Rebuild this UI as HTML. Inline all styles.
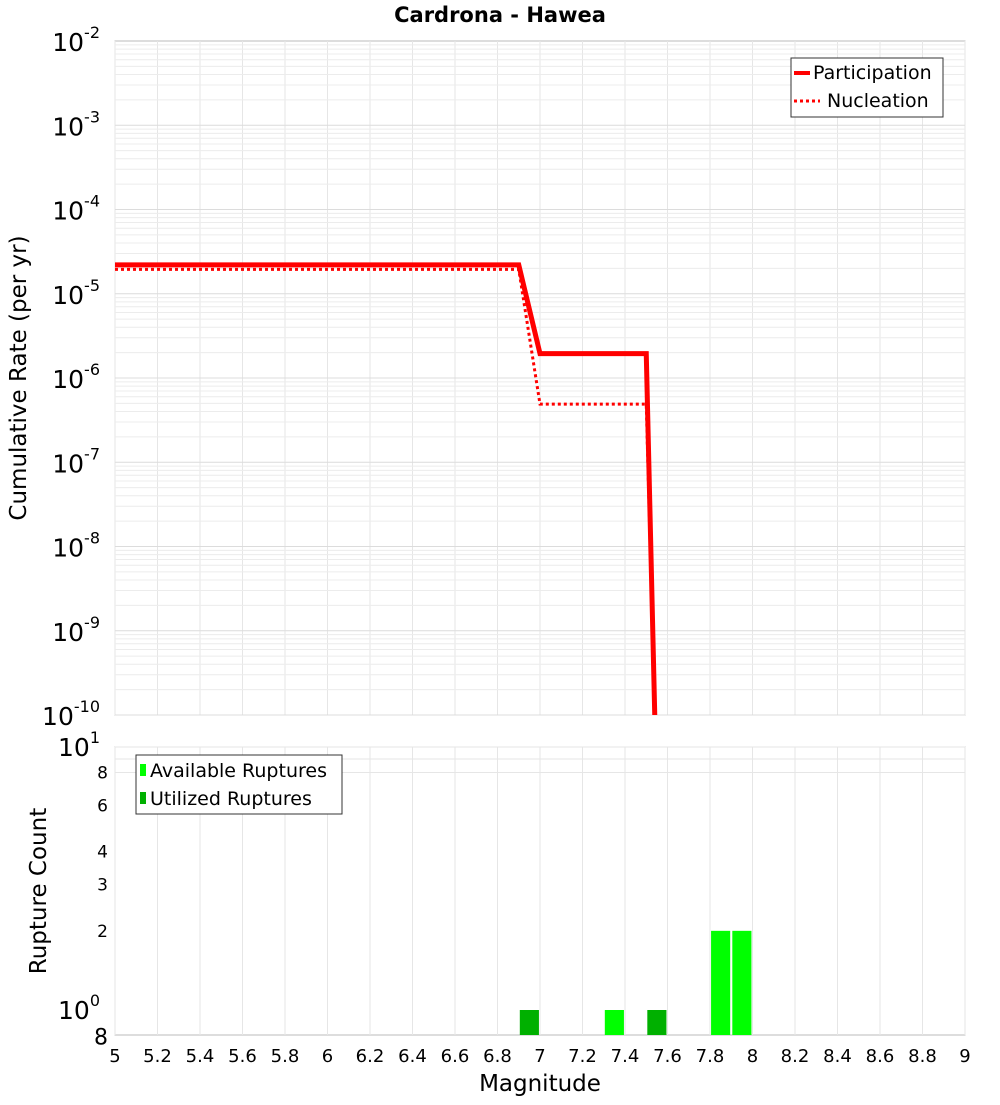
<!DOCTYPE html>
<html><head><meta charset="utf-8"><style>
body{margin:0;background:#fff;font-family:"Liberation Sans","DejaVu Sans",sans-serif}
svg text{font-family:"DejaVu Sans","Liberation Sans",sans-serif}
</style></head><body>
<svg id="c" width="1000" height="1100" xmlns="http://www.w3.org/2000/svg">
<text x="500" y="22" text-anchor="middle" font-size="21" font-weight="bold">Cardrona - Hawea</text>
<text transform="translate(26,378) rotate(-90)" text-anchor="middle" font-size="23">Cumulative Rate (per yr)</text>
<text transform="translate(46,891) rotate(-90)" text-anchor="middle" font-size="23">Rupture Count</text>
<text x="540" y="1091" text-anchor="middle" font-size="23">Magnitude</text>
<g id="g"></g>
</svg>
<script>
const partMags=[5,6.9,7.0,7.5,7.54];
const partRates=[2.2e-5,2.2e-5,1.95e-6,1.95e-6,1e-10];
const nuclMags=[5,6.9,7.0,7.5,7.54];
const nuclRates=[1.95e-5,1.95e-5,4.9e-7,4.9e-7,1e-10];
const availBins=[7.3,7.8,7.9];
const availCounts=[1,2,2];
const usedBins=[6.9,7.5];
const usedCounts=[1,1];
const xTicks=[5,5.2,5.4,5.6,5.8,6,6.2,6.4,6.6,6.8,7,7.2,7.4,7.6,7.8,8,8.2,8.4,8.6,8.8,9];
const topExps=[-2,-3,-4,-5,-6,-7,-8,-9,-10];
const botLabels=[8,6,4,3,2];

const NS="http://www.w3.org/2000/svg",g=document.getElementById('g');
const L=115,R=965,T1=41,B1=715,T2=747,B2=1035;
const x=m=>L+(m-5)/4*(R-L);
const y1=v=>T1+(-2-Math.log10(v))*(B1-T1)/8;
const y2=v=>1010-Math.log10(v)*263;
function el(t,a,p){const e=document.createElementNS(NS,t);for(const k in a)e.setAttribute(k,a[k]);(p||g).appendChild(e);return e;}
let r=el('rect',{x:L,y:T1,width:R-L,height:B1-T1,fill:'#fff',stroke:'#bbb'});


r=el('rect',{x:L,y:T2,width:R-L,height:B2-T2,fill:'#fff',stroke:'#bbb'});


for(const t of xTicks){for(const [a,b] of [[T1,B1],[T2,B2]]){const l=el('line',{x1:x(t),x2:x(t),y1:a,y2:b,stroke:'#e6e6e6'});}}
for(let e=-10;e<-2;e++)for(let k=1;k<10;k++){const yy=y1(k*Math.pow(10,e));const l=el('line',{x1:L,x2:R,y1:yy,y2:yy,stroke:k==1?'#dcdcdc':'#ececec'});}
for(const v of [8,9,10,20,30,40,50,60,70,80,90]){const yy=y2(v);if(yy<T2-1||yy>B2)continue;const l=el('line',{x1:L,x2:R,y1:yy,y2:yy,stroke:'#e6e6e6'});}
for(const t of xTicks){const tx=el('text',{x:x(t),y:1062,'text-anchor':'middle','font-size':18});tx.textContent=String(t);}
for(const e of topExps){const yy=y1(Math.pow(10,e));const tx=el('text',{x:100,y:yy+10,'text-anchor':'end','font-size':25});tx.textContent='10';const s=el('tspan',{dy:-13,'font-size':16},tx);s.textContent=String(e);}
for(const v of botLabels){const tx=el('text',{x:108,y:y2(v)+6,'text-anchor':'end','font-size':17});tx.textContent=String(v);}
for(const [v,lab,sz] of [[10,'10',25],[1,'10',25],[0.8,'8',22]]){const tx=el('text',{x:v==0.8?108:100,y:y2(v)+9,'text-anchor':'end','font-size':sz});tx.textContent=lab;if(v!=0.8){const s=el('tspan',{dy:-13,'font-size':16},tx);s.textContent=v==10?'1':'0';}}
const bw=(x(0.1)-x(0))*0.9;
function bars(bins,counts,col,name){bins.forEach((b,i)=>{const yy=y2(counts[i]);const rr=el('rect',{x:x(b)+(x(5.1)-x(5)-bw)/2,y:yy,width:bw,height:B2-yy,fill:col});});}
bars(availBins,availCounts,'#00ff00','available-bar');
bars(usedBins,usedCounts,'#00b000','utilized-bar');
let cp=el('clipPath',{id:'cp'});el('rect',{x:L,y:T1,width:R-L,height:B1-T1},cp);
function line(ms,vs,dash,name){const p=el('polyline',{points:ms.map((m,i)=>x(m)+','+y1(vs[i])).join(' '),fill:'none',stroke:'#ff0000','stroke-width':dash?3:5,'clip-path':'url(#cp)'});if(dash)p.setAttribute('stroke-dasharray','3,3');}
line(nuclMags,nuclRates,true,'nucleation-line');
line(partMags,partRates,false,'participation-line');
let lg=el('g',{});
el('rect',{x:791,y:58,width:152,height:59,fill:'#fff',stroke:'#333'},lg);
el('line',{x1:794,x2:810,y1:73,y2:73,stroke:'#f00','stroke-width':4},lg);
el('line',{x1:794,x2:820,y1:101,y2:101,stroke:'#f00','stroke-width':3,'stroke-dasharray':'3,3'},lg);
let t=el('text',{x:813,y:79,'font-size':19},lg);t.textContent='Participation';
t=el('text',{x:827,y:107,'font-size':19},lg);t.textContent='Nucleation';
lg=el('g',{});
el('rect',{x:136,y:755,width:206,height:59,fill:'#fff',stroke:'#333'},lg);
el('rect',{x:140,y:764,width:6,height:12,fill:'#00ff00'},lg);
el('rect',{x:140,y:792,width:6,height:12,fill:'#00b000'},lg);
t=el('text',{x:150,y:777,'font-size':19},lg);t.textContent='Available Ruptures';
t=el('text',{x:150,y:805,'font-size':19},lg);t.textContent='Utilized Ruptures';
</script>
</body></html>
